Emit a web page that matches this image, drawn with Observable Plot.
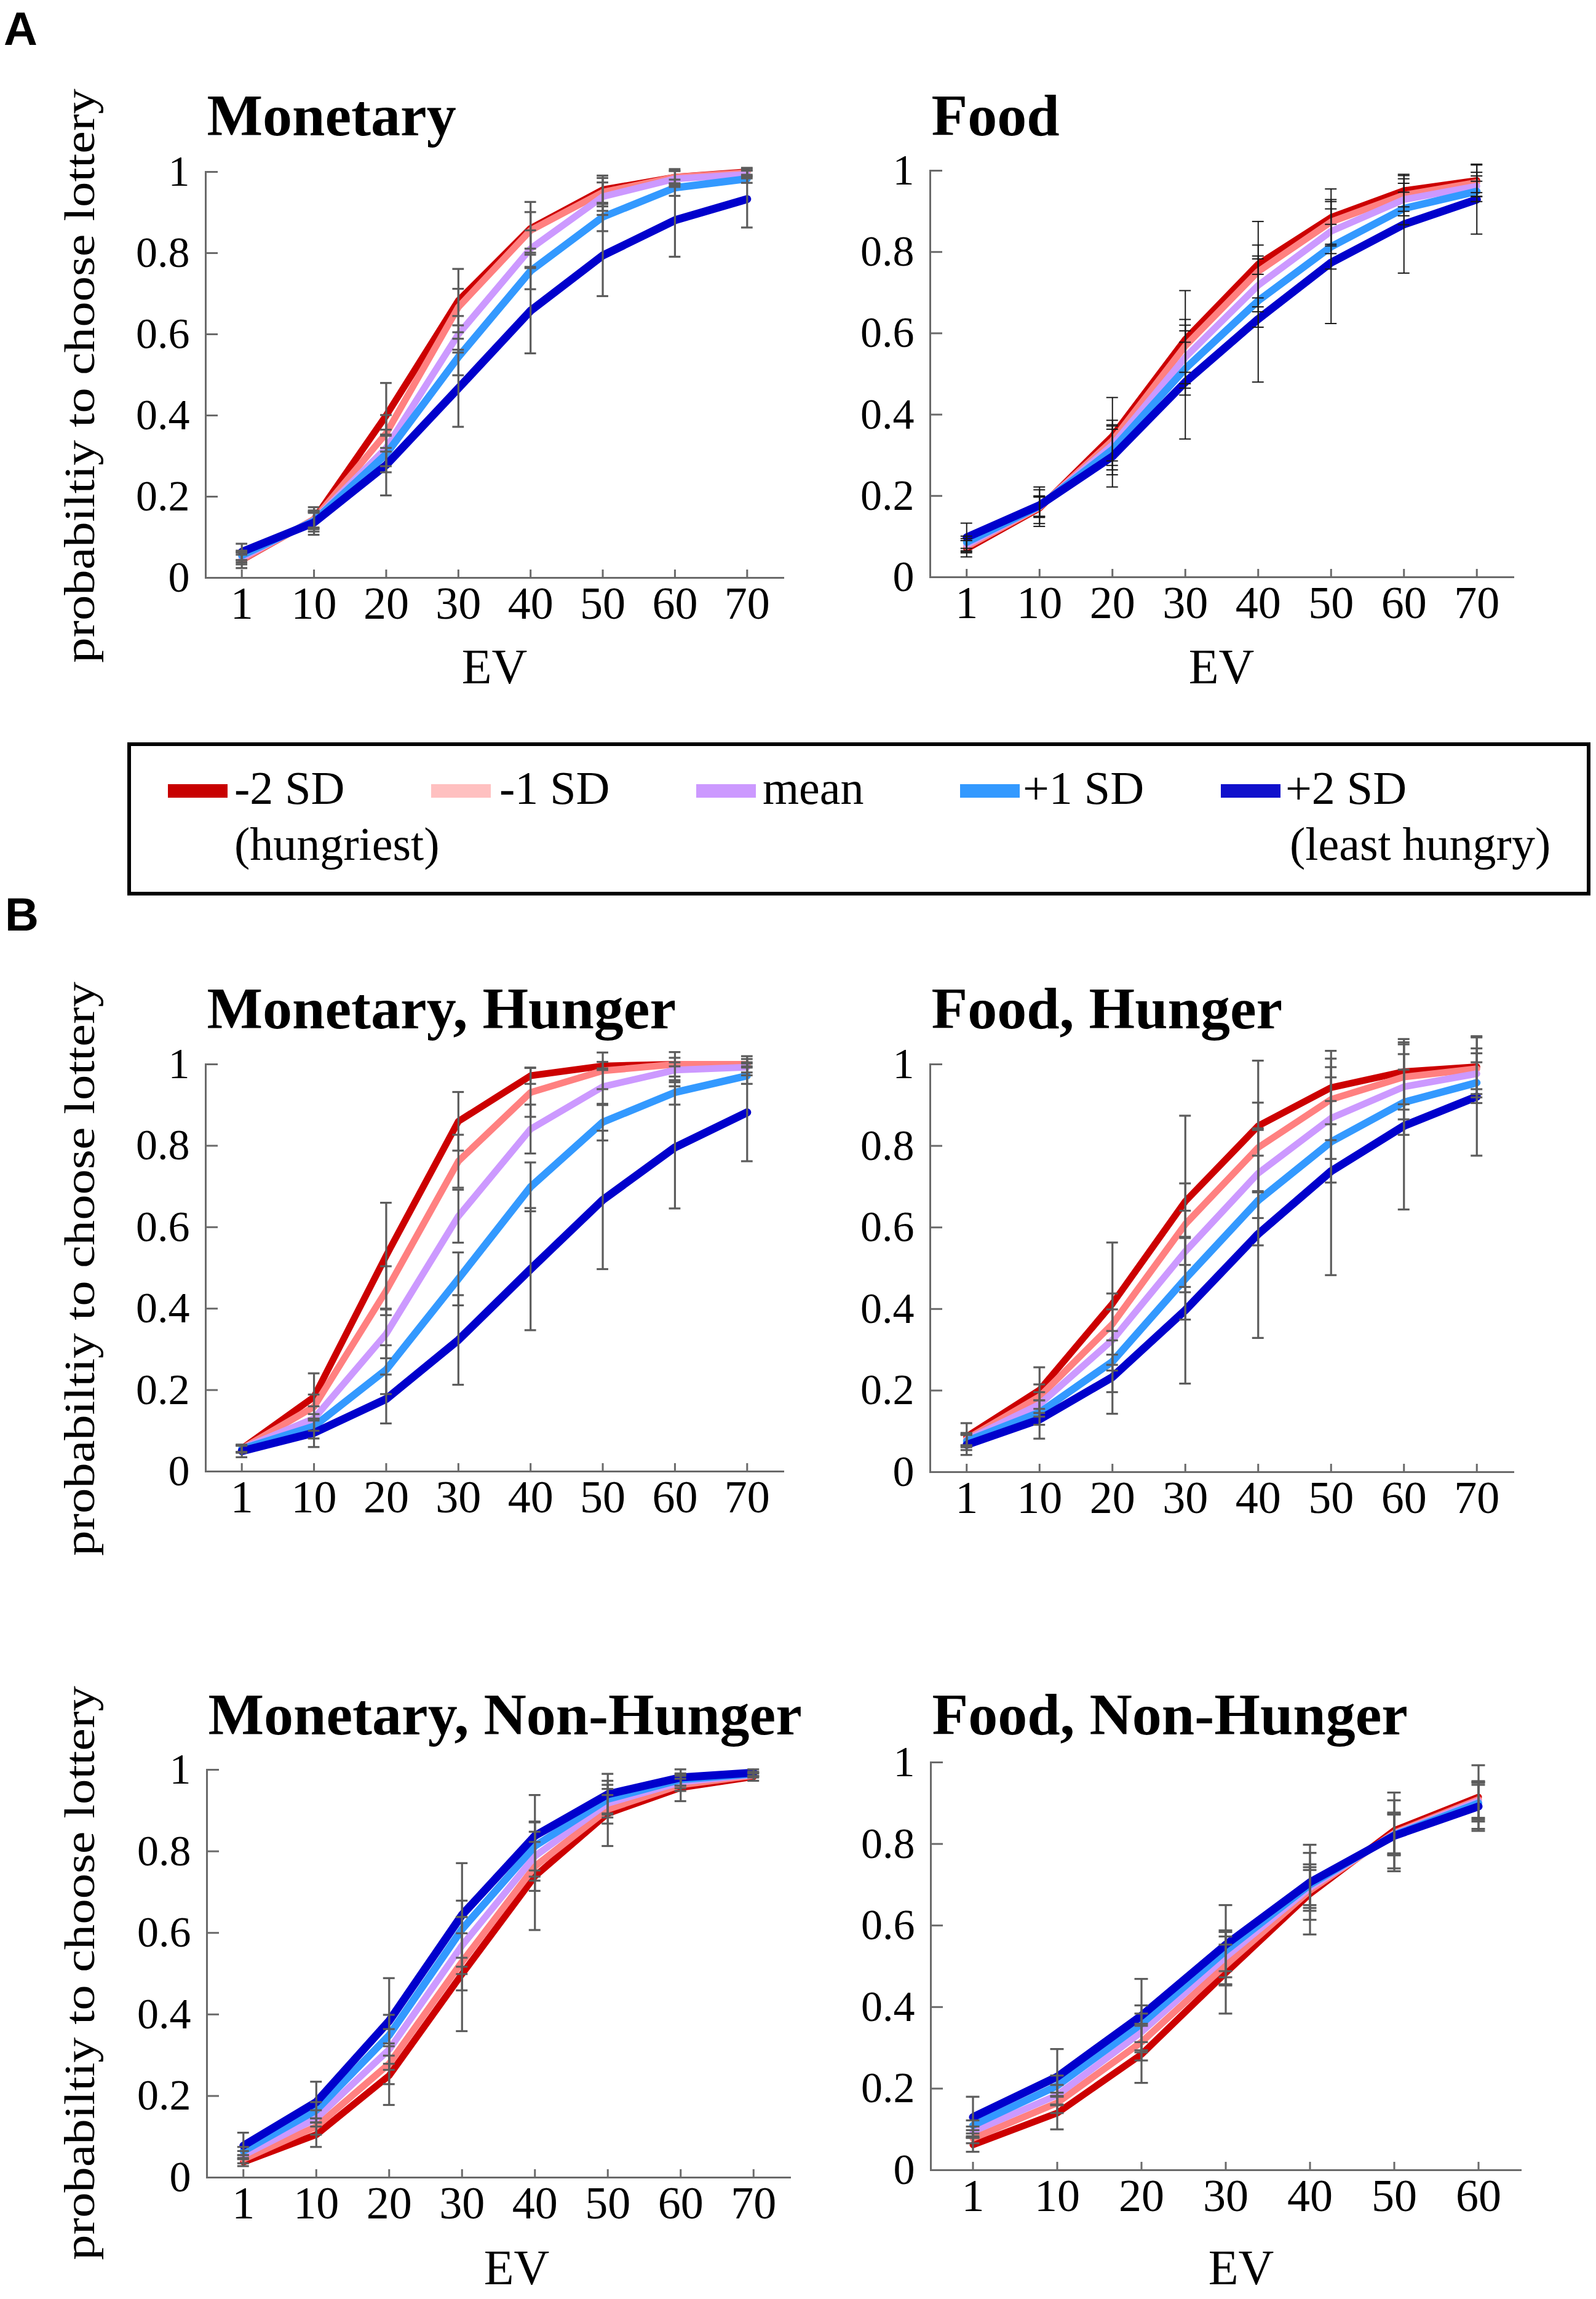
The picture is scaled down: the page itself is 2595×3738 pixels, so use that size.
<!DOCTYPE html>
<html><head><meta charset="utf-8">
<script src="https://cdn.jsdelivr.net/npm/d3@7"></script>
<script src="https://cdn.jsdelivr.net/npm/@observablehq/plot@0.6"></script>
<style>
html,body{margin:0;padding:0;background:#fff;}
#root{position:relative;width:2595px;height:3738px;overflow:hidden;background:#fff;}
#root svg{position:absolute;}
</style></head><body><div id="root"></div>
<script>
// ---------- data ----------
const seriesNames = ["-2 SD", "-1 SD", "mean", "+1 SD", "+2 SD"];
const lineColors = ["#cc0000", "#ff8080", "#cc99ff", "#3399ff", "#0000cc"];
const swatchColors = ["#c80000", "#ffc0c0", "#cc99ff", "#3399ff", "#1010cc"];
// which error array each series uses: -2 SD -> hungry extreme, +2 SD -> sated extreme, others -> inner
const errSide = ["lo", "in", "in", "in", "hi"];
const yTicks = [0, 0.2, 0.4, 0.6, 0.8, 1];
const ev8 = ["1", "10", "20", "30", "40", "50", "60", "70"];
const ev7 = ["1", "10", "20", "30", "40", "50", "60"];

// A: Monetary
const monA_m2   = [0.044, 0.144, 0.400, 0.683, 0.861, 0.956, 0.987, 1.000];
const monA_m1   = [0.045, 0.144, 0.356, 0.667, 0.856, 0.950, 0.987, 0.998];
const monA_mean = [0.050, 0.142, 0.320, 0.600, 0.811, 0.939, 0.983, 0.994];
const monA_p1   = [0.055, 0.140, 0.305, 0.544, 0.756, 0.889, 0.961, 0.983];
const monA_p2   = [0.064, 0.136, 0.278, 0.467, 0.658, 0.794, 0.881, 0.933];
const monA_errLo = [0.020, 0.030, 0.080, 0.078, 0.065, 0.035, 0.015, 0.010];
const monA_errIn = [0.012, 0.020, 0.045, 0.045, 0.045, 0.035, 0.020, 0.010];
const monA_errHi = [0.020, 0.030, 0.075, 0.095, 0.105, 0.100, 0.090, 0.070];

// A: Food
const foodA_m2   = [0.070, 0.170, 0.347, 0.585, 0.770, 0.885, 0.951, 0.976];
const foodA_m1   = [0.075, 0.172, 0.336, 0.569, 0.752, 0.874, 0.940, 0.971];
const foodA_mean = [0.080, 0.174, 0.325, 0.541, 0.718, 0.851, 0.929, 0.962];
const foodA_p1   = [0.086, 0.175, 0.314, 0.513, 0.680, 0.813, 0.907, 0.949];
const foodA_p2   = [0.098, 0.177, 0.297, 0.480, 0.635, 0.774, 0.868, 0.929];
const foodA_errLo = [0.020, 0.045, 0.095, 0.120, 0.105, 0.070, 0.040, 0.040];
const foodA_errIn = [0.015, 0.025, 0.050, 0.065, 0.065, 0.055, 0.040, 0.025];
const foodA_errHi = [0.035, 0.045, 0.075, 0.140, 0.155, 0.150, 0.120, 0.085];

// B: Monetary, Hunger
const monH_m2   = [0.056, 0.183, 0.530, 0.860, 0.972, 0.996, 1.000, 1.000];
const monH_m1   = [0.056, 0.159, 0.444, 0.762, 0.931, 0.984, 1.000, 1.000];
const monH_mean = [0.056, 0.130, 0.338, 0.627, 0.841, 0.945, 0.986, 0.993];
const monH_p1   = [0.055, 0.111, 0.250, 0.473, 0.699, 0.858, 0.931, 0.972];
const monH_p2   = [0.050, 0.095, 0.178, 0.323, 0.497, 0.667, 0.796, 0.882];
const monH_errLo = [0.010, 0.058, 0.130, 0.072, 0.020, 0.010, 0.005, 0.005];
const monH_errIn = [0.008, 0.030, 0.060, 0.065, 0.060, 0.045, 0.030, 0.020];
const monH_errHi = [0.015, 0.035, 0.060, 0.110, 0.150, 0.170, 0.150, 0.120];

// B: Food, Hunger
const foodH_m2   = [0.087, 0.201, 0.413, 0.664, 0.849, 0.943, 0.982, 0.994];
const foodH_m1   = [0.081, 0.185, 0.363, 0.608, 0.796, 0.914, 0.969, 0.989];
const foodH_mean = [0.079, 0.166, 0.324, 0.541, 0.733, 0.868, 0.945, 0.977];
const foodH_p1   = [0.076, 0.146, 0.271, 0.474, 0.666, 0.810, 0.907, 0.955];
const foodH_p2   = [0.067, 0.129, 0.233, 0.397, 0.584, 0.738, 0.849, 0.921];
const foodH_errLo = [0.033, 0.056, 0.150, 0.210, 0.160, 0.090, 0.080, 0.075];
const foodH_errIn = [0.015, 0.030, 0.075, 0.100, 0.110, 0.100, 0.080, 0.050];
const foodH_errHi = [0.025, 0.047, 0.090, 0.180, 0.255, 0.255, 0.205, 0.145];

// B: Monetary, Non-Hunger
const monNH_m2   = [0.038, 0.105, 0.250, 0.499, 0.739, 0.893, 0.956, 0.983];
const monNH_m1   = [0.045, 0.125, 0.279, 0.529, 0.763, 0.903, 0.963, 0.986];
const monNH_mean = [0.055, 0.145, 0.314, 0.569, 0.788, 0.918, 0.970, 0.988];
const monNH_p1   = [0.065, 0.165, 0.349, 0.609, 0.813, 0.928, 0.976, 0.990];
const monNH_p2   = [0.078, 0.185, 0.384, 0.644, 0.838, 0.940, 0.981, 0.993];
const monNH_errLo = [0.010, 0.030, 0.072, 0.140, 0.132, 0.080, 0.033, 0.010];
const monNH_errIn = [0.010, 0.020, 0.050, 0.070, 0.060, 0.035, 0.015, 0.005];
const monNH_errHi = [0.032, 0.050, 0.105, 0.127, 0.100, 0.050, 0.020, 0.008];

// B: Food, Non-Hunger
const foodNH_m2   = [0.062, 0.140, 0.284, 0.484, 0.678, 0.833, 0.915];
const foodNH_m1   = [0.078, 0.165, 0.314, 0.503, 0.686, 0.827, 0.909];
const foodNH_mean = [0.095, 0.184, 0.339, 0.523, 0.693, 0.824, 0.905];
const foodNH_p1   = [0.110, 0.207, 0.359, 0.538, 0.700, 0.822, 0.900];
const foodNH_p2   = [0.130, 0.229, 0.379, 0.553, 0.706, 0.820, 0.892];
const foodNH_errLo = [0.017, 0.040, 0.070, 0.100, 0.100, 0.093, 0.078];
const foodNH_errIn = [0.012, 0.025, 0.045, 0.050, 0.050, 0.050, 0.045];
const foodNH_errHi = [0.050, 0.068, 0.090, 0.097, 0.092, 0.087, 0.060];

// ---------- layout ----------
const panels = [
  {title: "Monetary", ev: ev8, series: [monA_m2, monA_m1, monA_mean, monA_p1, monA_p2], err: {lo: monA_errLo, in: monA_errIn, hi: monA_errHi},
   axL: 334, axR: 1273, yTop: 279, yBot: 939, titleY: 219, evX: 804, evY: 1111, errColor: "#5c5c5c", errW: 3.2},
  {title: "Food", ev: ev8, series: [foodA_m2, foodA_m1, foodA_mean, foodA_p1, foodA_p2], err: {lo: foodA_errLo, in: foodA_errIn, hi: foodA_errHi},
   axL: 1512, axR: 2460, yTop: 277, yBot: 938, titleY: 219, evX: 1986, evY: 1111, errColor: "#1a1a1a", errW: 2},
  {title: "Monetary, Hunger", ev: ev8, series: [monH_m2, monH_m1, monH_mean, monH_p1, monH_p2], err: {lo: monH_errLo, in: monH_errIn, hi: monH_errHi},
   axL: 334, axR: 1273, yTop: 1730, yBot: 2392, titleY: 1671, errColor: "#5c5c5c", errW: 3.2},
  {title: "Food, Hunger", ev: ev8, series: [foodH_m2, foodH_m1, foodH_mean, foodH_p1, foodH_p2], err: {lo: foodH_errLo, in: foodH_errIn, hi: foodH_errHi},
   axL: 1512, axR: 2460, yTop: 1730, yBot: 2393, titleY: 1671, errColor: "#5c5c5c", errW: 3.2},
  {title: "Monetary, Non-Hunger", ev: ev8, series: [monNH_m2, monNH_m1, monNH_mean, monNH_p1, monNH_p2], err: {lo: monNH_errLo, in: monNH_errIn, hi: monNH_errHi},
   axL: 336, axR: 1284, yTop: 2877, yBot: 3540, titleY: 2819, evX: 840, evY: 3714, errColor: "#5c5c5c", errW: 3.2},
  {title: "Food, Non-Hunger", ev: ev7, series: [foodNH_m2, foodNH_m1, foodNH_mean, foodNH_p1, foodNH_p2], err: {lo: foodNH_errLo, in: foodNH_errIn, hi: foodNH_errHi},
   axL: 1513, axR: 2472, yTop: 2865, yBot: 3528, titleY: 2819, evX: 2018, evY: 3714, errColor: "#5c5c5c", errW: 3.2}
];
const yLabels = [{x: 153, y: 611}, {x: 153, y: 2063}, {x: 153, y: 3208}];
const axisGrey = "#6a6a6a";
const lineWidths = [11, 11, 11, 12, 13];
const serif = "'Liberation Serif', 'Times New Roman', serif";
const root = document.getElementById("root");

// ---------- text overlay (panel letters, axis labels, legend) ----------
const ov = d3.create("svg").attr("width", 2595).attr("height", 3738)
  .style("left", "0px").style("top", "0px")
  .attr("font-family", serif);
ov.append("text").attr("x", 6).attr("y", 73).attr("font-family", "'Liberation Sans', Arial, sans-serif")
  .attr("font-weight", "bold").attr("font-size", 76).text("A");
ov.append("text").attr("x", 8).attr("y", 1513).attr("font-family", "'Liberation Sans', Arial, sans-serif")
  .attr("font-weight", "bold").attr("font-size", 76).text("B");
for (const p of panels) {
  if (p.evX) ov.append("text").attr("x", p.evX).attr("y", p.evY).attr("text-anchor", "middle")
    .attr("font-size", 80).text("EV");
}
for (const l of yLabels) {
  ov.append("text").attr("transform", `translate(${l.x},${l.y}) rotate(-90) scale(1.18,1)`)
    .attr("text-anchor", "middle").attr("font-size", 70).text("probabiltiy to choose lottery");
}
// legend
ov.append("rect").attr("x", 210).attr("y", 1210).attr("width", 2373).attr("height", 243)
  .attr("fill", "none").attr("stroke", "#000").attr("stroke-width", 6);
const legX = [273, 701, 1132, 1561, 1985];
const legTextX = [381, 812, 1240, 1663, 2090];
seriesNames.forEach((n, i) => {
  ov.append("rect").attr("x", legX[i]).attr("y", 1275).attr("width", 97).attr("height", 22).attr("fill", swatchColors[i]);
  ov.append("text").attr("x", legTextX[i]).attr("y", 1307).attr("font-size", 76).text(n);
});
ov.append("text").attr("x", 381).attr("y", 1398).attr("font-size", 76).text("(hungriest)");
ov.append("text").attr("x", 2097).attr("y", 1398).attr("font-size", 76).text("(least hungry)");
root.appendChild(ov.node());

// ---------- plots ----------
const mL = 140, mR = 40, mT = 170, mB = 110;
for (const p of panels) {
  const rows = [];
  p.series.forEach((vals, si) => vals.forEach((v, i) => {
    const e = p.err[errSide[si]][i];
    rows.push({ev: p.ev[i], s: seriesNames[si], si, p: v, lo: v - e, hi: v + e});
  }));
  const lineMarks = seriesNames.map((n, si) =>
    Plot.line(rows.filter(r => r.si === si), {x: "ev", y: "p", stroke: lineColors[si], strokeWidth: lineWidths[si],
      strokeLinejoin: "round", strokeLinecap: "round"}));
  const chart = Plot.plot({
    width: p.axR - p.axL + mL + mR,
    height: p.yBot - p.yTop + mT + mB,
    marginLeft: mL, marginRight: mR, marginTop: mT, marginBottom: mB,
    style: {background: "transparent", fontFamily: serif, fontSize: "70px", color: "#000", overflow: "visible"},
    x: {type: "band", domain: p.ev, paddingInner: 0.84, paddingOuter: 0.42, align: 0.5, round: false, axis: null},
    y: {domain: [0, 1], axis: null},
    marks: [
      Plot.frame({anchor: "left", stroke: axisGrey, strokeWidth: 3}),
      Plot.frame({anchor: "bottom", stroke: axisGrey, strokeWidth: 3}),
      Plot.axisY({ticks: yTicks, tickSize: 20, dx: 20, fill: "none", stroke: axisGrey, strokeWidth: 3, label: null}),
      Plot.axisX({tickSize: 13, dy: -13, fill: "none", stroke: axisGrey, strokeWidth: 3, label: null}),
      // tick labels
      Plot.text(yTicks, {y: d => d, text: d => String(d), frameAnchor: "left", textAnchor: "end", dx: -26,
        fontFamily: serif, fontSize: 70, fill: "#000"}),
      Plot.text(p.ev, {x: d => d, text: d => d, frameAnchor: "bottom", lineAnchor: "top", dy: 14,
        fontFamily: serif, fontSize: 74, fill: "#000"}),
      ...lineMarks,
      Plot.ruleX(rows, {x: "ev", y1: "lo", y2: "hi", stroke: p.errColor, strokeWidth: p.errW}),
      Plot.tickY(rows, {x: "ev", y: "lo", stroke: p.errColor, strokeWidth: p.errW}),
      Plot.tickY(rows, {x: "ev", y: "hi", stroke: p.errColor, strokeWidth: p.errW}),
      Plot.text([p.title], {text: d => d, frameAnchor: "top-left", textAnchor: "start", lineAnchor: "bottom",
        dx: 2, dy: p.titleY - p.yTop, fontFamily: serif, fontWeight: "bold", fontSize: 96, fill: "#000"})
    ]
  });
  chart.style.left = (p.axL - mL) + "px";
  chart.style.top = (p.yTop - mT) + "px";
  root.appendChild(chart);
}
</script></body></html>
